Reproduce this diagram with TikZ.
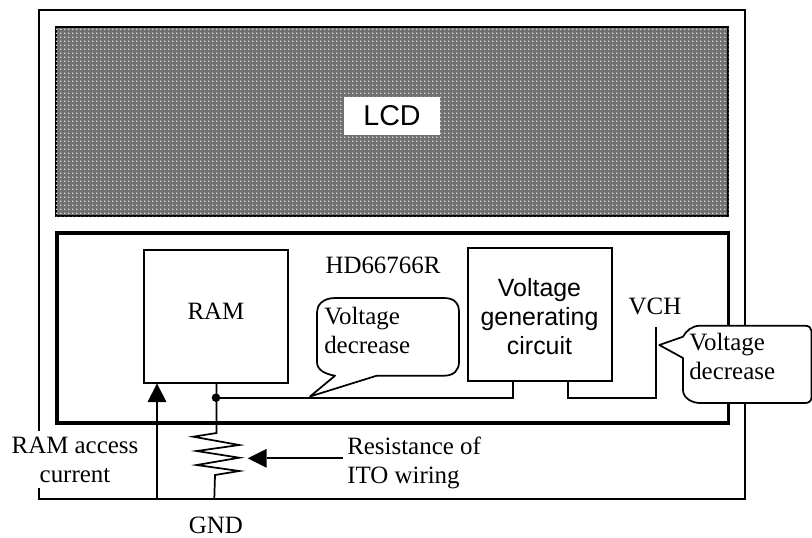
\documentclass[tikz,border=0pt]{standalone}
\usepackage{fontspec}
\setmainfont{Liberation Serif}
\newfontfamily\arialf{Liberation Sans}
\usetikzlibrary{patterns}
\pgfdeclarepatternformonly{lcddots}{\pgfpointorigin}{\pgfqpoint{3pt}{3pt}}{\pgfqpoint{3pt}{3pt}}{%
  \pgfpathrectangle{\pgfqpoint{0pt}{0pt}}{\pgfqpoint{1.3pt}{1.3pt}}\pgfusepath{fill}}
\begin{document}
\begin{tikzpicture}[x=0.75pt,y=-0.75pt,
  wire/.style={line width=1.3pt,line join=miter},
  thinbox/.style={draw,line width=1.4pt,outer sep=0pt,inner sep=0pt,anchor=north west},
  serif/.style={font=\fontsize{18.7}{21.75}\selectfont,align=center,inner sep=0pt},
  sans/.style={font=\arialf\fontsize{18.7}{21.75}\selectfont,align=center,inner sep=0pt},
  bubble/.style={draw,fill=white,line width=1.3pt,line join=round}]
\useasboundingbox (0,0) rectangle (812,537);
\coordinate (oTL) at (38.5,9.5);
\coordinate (oBR) at (744.5,498.5);
\draw[line width=1.5pt] (oTL) rectangle (oBR);
\fill[white] (30,431) rectangle (46,488);
% LCD
\node[draw=black,line width=1.6pt,minimum width=504.3pt,minimum height=141.8pt,fill=black!56,anchor=north west,inner sep=0pt,outer sep=0pt,
  postaction={pattern=lcddots,pattern color=white!85!black}] (lcd) at (56,27) {};
\node[fill=white,font=\arialf\fontsize{21.5}{24}\selectfont,inner sep=0pt,minimum width=72pt,minimum height=28.8pt] (lcdt) at (392,116) {LCD};
% chip
\node[draw,line width=2.4pt,minimum width=503.5pt,minimum height=142.5pt,anchor=north west,inner sep=0pt,outer sep=0pt] (chip) at (57,233) {};
\node[thinbox,minimum width=108pt,minimum height=100pt] (ram) at (144,250) {};
\node[serif] (ramt) at (216,311) {RAM};
\node[thinbox,minimum width=108pt,minimum height=100pt] (vgen) at (467.7,247.7) {};
\node[sans] (vgent) at (539.5,317) {Voltage\\generating\\circuit};
\node[serif] (hd) at (383,265) {HD66766R};
\node[serif] (vch) at (655,306) {VCH};
\coordinate (dot) at (216,397.7);
\coordinate (g1) at (513,381);
\coordinate (g1b) at (513,397.7);
\coordinate (g2) at (567.7,381);
\coordinate (g2b) at (567.7,397.7);
\coordinate (vcht) at (655.7,327);
\coordinate (vchb) at (655.7,397.7);
\draw[wire] (dot) -- (g1b) -- (g1);
\draw[wire] (g2) -- (g2b) -- (vchb) -- (vcht);
\fill (dot) circle (4.3);
% bubble 1
\draw[bubble] (335,375.7) -- (310,396.5) -- (376.7,375.7) -- (444,375.7)
  .. controls (454,375.7) and (459,370) .. (459,362) -- (459,312)
  .. controls (459,303) and (454,298) .. (444,298) -- (335,298)
  .. controls (323,298) and (317,305) .. (317,312) -- (317,362)
  .. controls (317,370) and (325,374) .. (335,375.7) -- cycle;
\node[serif,align=left,anchor=north west] (b1) at (324,307) {Voltage\\decrease};
% bubble 2
\draw[bubble] (683,336.7) -- (659.3,345) -- (683,358) -- (683,390)
  .. controls (683,398) and (692,403) .. (700,403) -- (805,403)
  .. controls (809,403) and (811.5,401) .. (811.5,397) -- (811.5,331)
  .. controls (811.5,328) and (809,325.7) .. (805,325.7) -- (700,325.7)
  .. controls (692,325.7) and (686,331) .. (683,336.7) -- cycle;
\node[serif,align=left,anchor=north west] (b2) at (689,333) {Voltage\\decrease};
% bottom
\node[serif] (rac) at (75,460) {RAM access\\current};
\node[serif,align=left,anchor=west] (ito) at (347,463) {Resistance of\\ITO wiring};
\node[serif] (gnd) at (216,525) {GND};
% current arrow
\coordinate (a1) at (157,498.5);
\coordinate (a1b) at (157,402);
\coordinate (a1t) at (157,383.5);
\draw[wire] (a1) -- (a1b);
\fill (a1t) -- (147.5,402) -- (166.5,402) -- cycle;
% resistor
\draw[wire] (216.5,383.5) -- (216.5,433) -- (193.3,436.7) -- (239.3,445) -- (196.7,451) -- (239.3,457.7) -- (196.7,465) -- (239.3,471) -- (215,475) -- (214.3,498.5);
% ito arrow
\coordinate (i1) at (342.7,458.3);
\coordinate (i2) at (266.7,458.3);
\draw[wire] (i1) -- (i2);
\fill (247.7,458.3) -- (266.7,448.8) -- (266.7,467.8) -- cycle;
\end{tikzpicture}
\end{document}
